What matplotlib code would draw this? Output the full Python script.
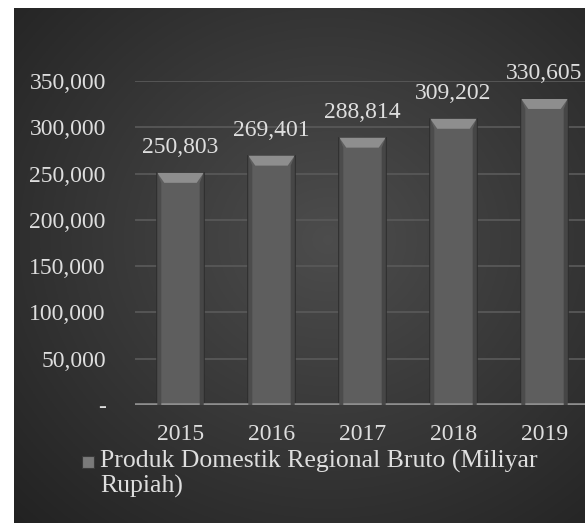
import numpy as np
from matplotlib import pyplot as plt
from matplotlib.patches import Polygon, Rectangle

# data
years = ["2015", "2016", "2017", "2018", "2019"]
pdrb = [250803, 269401, 288814, 309202, 330605]
yticks = [0, 50000, 100000, 150000, 200000, 250000, 300000, 350000]
legend_label = "Produk Domestik Regional Bruto (Miliyar\nRupiah)"

W, H = 585, 523
txt = "#dedede"
plt.rcParams['font.family'] = ['Liberation Serif', 'DejaVu Serif']

fig = plt.figure(figsize=(W / 100, H / 100), dpi=100)

# dark radial gradient panel
bg = fig.add_axes([14 / W, 0, 1 - 14 / W, 1 - 8 / H])
bg.axis('off')
gx, gy = np.meshgrid(np.linspace(0, 1, 300), np.linspace(0, 1, 300))
r = np.sqrt(((gx - 0.55) / 0.75) ** 2 + ((gy - 0.45) / 0.75) ** 2)
shade = np.clip(0.30 - 0.16 * r, 0.13, 0.30)
bg.imshow(np.dstack([shade] * 3), extent=[0, 1, 0, 1], aspect='auto', origin='upper')

# plot area
ax = fig.add_axes([135 / W, 1 - 405 / H, 455 / W, 324 / H])
ax.set_facecolor('none')
ax.set_xlim(-0.5, len(years) - 0.5)
ax.set_ylim(0, 350000)
for s in ax.spines.values():
    s.set_visible(False)

for t in yticks[1:]:
    ax.axhline(t, color='#585858', lw=1.3, zorder=0)
ax.axhline(0, color='#8e8e8e', lw=2.6, zorder=3)

x = np.arange(len(years))
bw = 0.51
bars = ax.bar(x, pdrb, width=bw, color='#5e5e5e', edgecolor='#2e2e2e', linewidth=1.2, zorder=2)

# bevel on top of each bar
bev_h = 10 / 324 * 350000
bev_w = 7 / 91
side_w = 4 / 91
for b in bars:
    x0 = b.get_x()
    x1 = x0 + b.get_width()
    h = b.get_height()
    ax.add_patch(Polygon([[x0, h], [x1, h], [x1 - bev_w, h - bev_h], [x0 + bev_w, h - bev_h]],
                         closed=True, facecolor='#8e8e8e', edgecolor='none', zorder=3))
    ax.add_patch(Polygon([[x0, h], [x0 + side_w, h - bev_h], [x0 + side_w, 0], [x0, 0]],
                         closed=True, facecolor='#4c4c4c', edgecolor='none', zorder=3))
    ax.add_patch(Polygon([[x1, h], [x1 - side_w, h - bev_h], [x1 - side_w, 0], [x1, 0]],
                         closed=True, facecolor='#464646', edgecolor='none', zorder=3))

for xi, v in zip(x, pdrb):
    ax.annotate(f"{v:,}", (xi, v), xytext=(0, 18), textcoords='offset points',
                ha='center', va='center', color=txt, fontsize=17)

ax.set_yticks(yticks)
ax.set_yticklabels(["-" if t == 0 else f"{t:,}" for t in yticks])
ax.set_xticks(x)
ax.set_xticklabels(years)
ax.tick_params(axis='y', length=0, pad=21, labelsize=17, labelcolor=txt)
ax.tick_params(axis='x', length=0, pad=14, labelsize=17, labelcolor=txt)

# legend
fig.patches.append(Rectangle((82 / W, 1 - 468 / H), 12 / W, 12 / H, transform=fig.transFigure,
                             facecolor='#7a7a7a', edgecolor='#3a3a3a', lw=0.8))
fig.text(100 / W, 1 - 450 / H, legend_label, ha='left', va='top', color=txt,
         fontsize=18.5, linespacing=1.1)

plt.savefig("out.png", dpi=100)
